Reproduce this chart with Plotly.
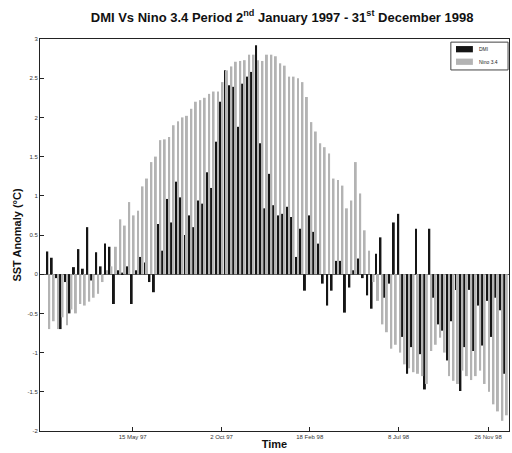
import datetime as dt
import plotly.graph_objects as go

start = dt.date(1997, 1, 2)
n_weeks = 104
weeks = [(start + dt.timedelta(days=7 * i)).isoformat() for i in range(n_weeks)]

dmi = [
    0.29, 0.21, -0.05, -0.70, -0.10, -0.50, 0.09, 0.32, 0.07, 0.60,
    -0.08, 0.28, 0.10, 0.39, 0.35, -0.38, 0.05, 0.02, 0.10, -0.38,
    0.05, 0.22, 0.15, -0.10, -0.23, 0.64, 0.30, 0.96, 0.66, 1.18,
    0.98, 0.50, 0.75, 0.60, 0.94, 0.90, 1.30, 1.10, 1.69, 2.20,
    2.60, 2.41, 2.39, 1.88, 2.43, 2.52, 2.58, 2.92, 1.67, 0.84,
    1.28, 0.88, 0.75, 0.77, 0.86, 0.73, 0.22, 0.58, -0.21, 0.75,
    0.54, 0.39, -0.12, -0.40, -0.21, 0.17, 0.17, -0.49, -0.17, 0.05,
    0.20, -0.05, -0.27, -0.44, 0.26, 0.47, -0.30, -0.12, 0.66, 0.77,
    -0.80, -1.27, -0.93, 0.58, -1.02, -1.47, 0.58, -0.30, -0.64, -0.72,
    -1.10, -0.60, -0.20, -1.49, -0.93, -0.20, -0.98, -0.40, -0.91, -0.34,
    -0.80, -0.30, -0.46, -1.27,
]

nino34 = [
    -0.70, -0.60, -0.70, -0.55, -0.65, -0.45, -0.50, -0.38, -0.40, -0.35,
    -0.30, -0.25, -0.10, 0.05, 0.10, 0.35, 0.70, 0.62, 0.92, 0.75,
    0.81, 1.12, 1.22, 1.43, 1.50, 1.71, 1.72, 1.75, 1.90, 1.95,
    2.00, 2.02, 2.11, 2.20, 2.22, 2.25, 2.30, 2.33, 2.33, 2.45,
    2.60, 2.65, 2.71, 2.72, 2.73, 2.80, 2.80, 2.73, 2.72, 2.80,
    2.80, 2.78, 2.69, 2.66, 2.52, 2.52, 2.50, 2.45, 2.26, 1.94,
    1.82, 1.67, 1.62, 1.54, 1.22, 1.20, 1.13, 0.84, 0.94, 1.43,
    1.03, 0.56, 0.30, -0.10, -0.34, -0.64, -0.74, -0.95, -0.90, -1.00,
    -1.15, -1.20, -1.25, -1.27, -1.30, -1.40, -0.98, -0.90, -0.81, -1.00,
    -1.30, -1.36, -1.40, -1.23, -1.30, -1.35, -1.30, -1.23, -1.40, -1.50,
    -1.66, -1.75, -1.87, -1.80,
]

series_names = ["DMI", "Nino 3.4"]
series_colors = ["#151515", "#b3b3b3"]

x_tick_vals = ["1997-05-15", "1997-10-02", "1998-02-18", "1998-07-08", "1998-11-26"]
x_tick_text = ["15 May 97", "2 Oct 97", "18 Feb 98", "8 Jul 98", "26 Nov 98"]
y_tick_vals = [-2, -1.5, -1, -0.5, 0, 0.5, 1, 1.5, 2, 2.5, 3]
y_tick_text = ["-2", "-1.5", "-1", "-0.5", "0", "0.5", "1", "1.5", "2", "2.5", "3"]

fig = go.Figure()
for name, vals, col in zip(series_names, [dmi, nino34], series_colors):
    fig.add_trace(go.Bar(x=weeks, y=vals, name=name, showlegend=False,
                         marker=dict(color=col, line=dict(width=0))))

# compact legend box (top right, inside the axes)
shapes = [
    dict(type="rect", xref="paper", yref="paper", x0=0.876, x1=0.998, y0=0.921, y1=0.992,
         line=dict(color="#444", width=1), fillcolor="white", layer="above"),
    dict(type="rect", xref="paper", yref="paper", x0=0.887, x1=0.923, y0=0.966, y1=0.982,
         line=dict(width=0), fillcolor=series_colors[0], layer="above"),
    dict(type="rect", xref="paper", yref="paper", x0=0.887, x1=0.923, y0=0.934, y1=0.950,
         line=dict(width=0), fillcolor=series_colors[1], layer="above"),
]
annotations = [
    dict(text=series_names[0], xref="paper", yref="paper", x=0.932, y=0.974,
         xanchor="left", yanchor="middle", showarrow=False, font=dict(size=5, color="#222")),
    dict(text=series_names[1], xref="paper", yref="paper", x=0.932, y=0.942,
         xanchor="left", yanchor="middle", showarrow=False, font=dict(size=5, color="#222")),
]

fig.update_layout(
    width=512, height=453,
    margin=dict(l=40, r=3, t=39, b=22),
    paper_bgcolor="white", plot_bgcolor="white",
    barmode="group", bargap=0.12, bargroupgap=0.0,
    showlegend=False,
    shapes=shapes, annotations=annotations,
    title=dict(
        text="<b>DMI Vs Nino 3.4 Period 2<sup>nd</sup> January 1997 - 31<sup>st</sup> December 1998</b>",
        x=0.551, xanchor="center", y=0.962, yanchor="middle",
        font=dict(family="Liberation Sans, Arial, sans-serif", size=13, color="#111"),
    ),
    font=dict(family="Liberation Sans, Arial, sans-serif", color="#111"),
    xaxis=dict(
        type="date", range=["1996-12-20", "1998-12-29"],
        tickmode="array", tickvals=x_tick_vals, ticktext=x_tick_text,
        ticks="inside", ticklen=4, tickcolor="#222",
        tickfont=dict(size=6, color="#333"),
        showline=True, linecolor="#222", linewidth=1, mirror=True,
        showgrid=False, zeroline=False,
        title=dict(text="<b>Time</b>", standoff=1,
                   font=dict(size=11, color="#111")),
    ),
    yaxis=dict(
        range=[-2, 3],
        tickmode="array", tickvals=y_tick_vals, ticktext=y_tick_text,
        ticks="inside", ticklen=4, tickcolor="#222",
        tickfont=dict(size=6, color="#333"),
        showline=True, linecolor="#222", linewidth=1, mirror=True,
        showgrid=False, zeroline=True, zerolinecolor="#555", zerolinewidth=1,
        title=dict(text="<b>SST Anomaly (°C)</b>", standoff=3,
                   font=dict(size=11, color="#111")),
    ),
)

fig.write_html("out.html",
               config={"displayModeBar": False},
               post_script="document.body.style.margin='0';document.body.style.overflow='hidden';")
